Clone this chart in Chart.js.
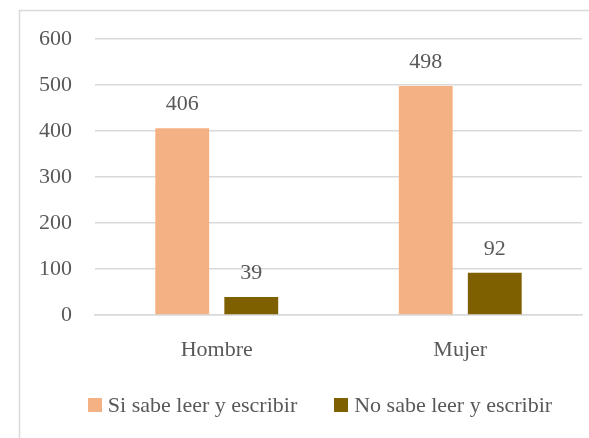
<!DOCTYPE html>
<html>
<head>
<meta charset="utf-8">
<script src="https://cdn.jsdelivr.net/npm/chart.js@4/dist/chart.umd.min.js"></script>
<style>
  html, body { margin: 0; padding: 0; background: #ffffff; }
  #wrap { position: relative; width: 589px; height: 438px; }
</style>
</head>
<body>
<div id="wrap"><canvas id="c" width="589" height="438"></canvas></div>
<script>
const categories = ['Hombre', 'Mujer'];
const siSabe = [406, 498];
const noSabe = [39, 92];
const seriesNames = ['Si sabe leer y escribir', 'No sabe leer y escribir'];
const seriesColors = ['#F4B183', '#7F6000'];
const yTicks = [0, 100, 200, 300, 400, 500, 600];

const FONT = '"Liberation Serif", "Times New Roman", serif';
const TEXT = '#595959';
const GRID = '#D9D9D9';

// Thin frame around the chart, open to the right and bottom
const framePlugin = {
  id: 'frame',
  beforeDraw(chart) {
    const ctx = chart.ctx;
    ctx.save();
    ctx.strokeStyle = GRID;
    ctx.lineWidth = 1.5;
    ctx.beginPath();
    ctx.moveTo(19.5, chart.height + 2);
    ctx.lineTo(19.5, 10.5);
    ctx.lineTo(chart.width + 2, 10.5);
    ctx.stroke();
    ctx.restore();
  }
};

// Value labels above each bar
const valueLabels = {
  id: 'valueLabels',
  afterDatasetsDraw(chart) {
    const ctx = chart.ctx;
    ctx.save();
    ctx.font = '22px ' + FONT;
    ctx.fillStyle = TEXT;
    ctx.textAlign = 'center';
    ctx.textBaseline = 'alphabetic';
    chart.data.datasets.forEach((ds, i) => {
      chart.getDatasetMeta(i).data.forEach((bar, j) => {
        ctx.fillText(String(ds.data[j]), bar.x, bar.y - 18);
      });
    });
    ctx.restore();
  }
};

// Compact legend row under the axis: square swatch, small gap, series name
const bottomLegend = {
  id: 'bottomLegend',
  afterDraw(chart) {
    const ctx = chart.ctx;
    const box = 14, gapText = 6, gapItem = 37, centerX = 320, midY = 405;
    ctx.save();
    ctx.font = '22px ' + FONT;
    ctx.textBaseline = 'middle';
    ctx.textAlign = 'left';
    const items = chart.data.datasets.map(ds => ({
      text: ds.label, color: ds.backgroundColor, w: ctx.measureText(ds.label).width
    }));
    let total = 0;
    items.forEach((it, k) => { total += box + gapText + it.w + (k ? gapItem : 0); });
    let x = centerX - total / 2;
    items.forEach(it => {
      ctx.fillStyle = it.color;
      ctx.fillRect(Math.round(x), Math.round(midY - box / 2), box, box);
      ctx.fillStyle = TEXT;
      ctx.fillText(it.text, x + box + gapText, midY + 1);
      x += box + gapText + it.w + gapItem;
    });
    ctx.restore();
  }
};

new Chart(document.getElementById('c'), {
  type: 'bar',
  data: {
    labels: categories,
    datasets: [
      { label: seriesNames[0], data: siSabe, backgroundColor: seriesColors[0] },
      { label: seriesNames[1], data: noSabe, backgroundColor: seriesColors[1] }
    ]
  },
  options: {
    responsive: false,
    animation: false,
    devicePixelRatio: 1,
    layout: { padding: { left: 20, right: 7, top: 39, bottom: 65 } },
    datasets: { bar: { categoryPercentage: 0.567, barPercentage: 0.78 } },
    plugins: {
      legend: { display: false },
      tooltip: { enabled: false }
    },
    scales: {
      x: {
        grid: { display: false, drawTicks: false },
        border: { display: true, color: GRID, width: 1.5 },
        ticks: { font: { family: FONT, size: 22 }, color: TEXT, padding: 22 },
        afterFit(scale) { scale.height = 58; }
      },
      y: {
        min: 0,
        max: 600,
        afterBuildTicks(scale) { scale.ticks = yTicks.map(v => ({ value: v })); },
        grid: { color: GRID, lineWidth: 1.5, drawTicks: false },
        border: { display: false },
        ticks: { font: { family: FONT, size: 22 }, color: TEXT, padding: 23 },
        afterFit(scale) { scale.width = 75; }
      }
    }
  },
  plugins: [framePlugin, valueLabels, bottomLegend]
});
</script>
</body>
</html>
